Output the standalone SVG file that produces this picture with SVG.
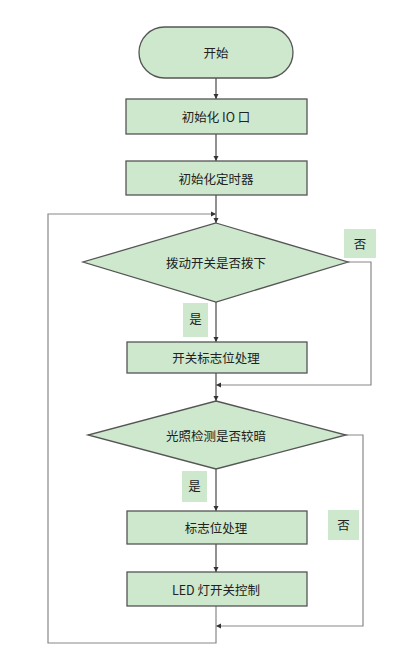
<svg xmlns="http://www.w3.org/2000/svg" width="413" height="664" viewBox="0 0 413 664">
<style>
.n{fill:#cde8cd;stroke:#555;stroke-width:1.3}
.lb{fill:#cde8cd;stroke:none}
.t{font-family:"Noto Sans CJK SC","Noto Sans",sans-serif;font-size:12.5px;fill:#222;text-anchor:middle;dominant-baseline:central}
.c{fill:none;stroke:#555;stroke-width:1.3}
.c2{fill:none;stroke:#888;stroke-width:1.2}
</style>
<defs>
<marker id="a" markerWidth="6" markerHeight="6" refX="5" refY="3" orient="auto" markerUnits="userSpaceOnUse">
<path d="M0,0.5 L5,3 L0,5.5 Z" fill="#333"/>
</marker>
</defs>
<rect width="413" height="664" fill="#fff"/>
<g id="connectors">
<line class="c" x1="216" y1="78" x2="216" y2="99" marker-end="url(#a)"/>
<line class="c" x1="216" y1="134" x2="216" y2="161" marker-end="url(#a)"/>
<line class="c" x1="216" y1="195" x2="216" y2="223" marker-end="url(#a)"/>
<line class="c" x1="216" y1="302" x2="216" y2="342" marker-end="url(#a)"/>
<polyline class="c2" points="348,262 371,262 371,385 216,385" marker-end="url(#a)"/>
<line class="c" x1="216" y1="373" x2="216" y2="401" marker-end="url(#a)"/>
<line class="c" x1="216" y1="469" x2="216" y2="511" marker-end="url(#a)"/>
<line class="c" x1="216" y1="544" x2="216" y2="572" marker-end="url(#a)"/>
<polyline class="c2" points="346,435 363,435 363,626 216,626" marker-end="url(#a)"/>
<polyline class="c2" points="216,606 216,643 48,643 48,214 216,214" marker-end="url(#a)"/>
</g>
<g id="start">
<rect class="n" x="139" y="27" width="154" height="51" rx="25.5"/>
<text class="t" x="216" y="52">开始</text>
</g>
<g id="init-io">
<rect class="n" x="126" y="99" width="181" height="35"/>
<text class="t" x="216" y="116.5">初始化 IO 口</text>
</g>
<g id="init-timer">
<rect class="n" x="126" y="161" width="181" height="34"/>
<text class="t" x="216" y="178">初始化定时器</text>
</g>
<g id="dec-switch">
<polygon class="n" points="216,223 348,262 216,302 83,262"/>
<text class="t" x="216" y="262">拨动开关是否拨下</text>
</g>
<g id="label-no1">
<rect class="lb" x="344" y="229" width="32" height="29"/>
<text class="t" x="360" y="243">否</text>
</g>
<g id="label-yes1">
<rect class="lb" x="183" y="303" width="25" height="34"/>
<text class="t" x="195.5" y="318">是</text>
</g>
<g id="switch-flag">
<rect class="n" x="127" y="342" width="180" height="31"/>
<text class="t" x="216" y="357.5">开关标志位处理</text>
</g>
<g id="dec-light">
<polygon class="n" points="216,401 346,435 216,469 88,435"/>
<text class="t" x="216" y="435">光照检测是否较暗</text>
</g>
<g id="label-yes2">
<rect class="lb" x="182" y="471" width="25" height="31"/>
<text class="t" x="194.5" y="485.5">是</text>
</g>
<g id="flag">
<rect class="n" x="127" y="511" width="180" height="33"/>
<text class="t" x="216" y="527.5">标志位处理</text>
</g>
<g id="label-no2">
<rect class="lb" x="328" y="510" width="31" height="30"/>
<text class="t" x="343.5" y="524">否</text>
</g>
<g id="led">
<rect class="n" x="127" y="572" width="180" height="34"/>
<text class="t" x="216" y="589">LED 灯开关控制</text>
</g>
</svg>
